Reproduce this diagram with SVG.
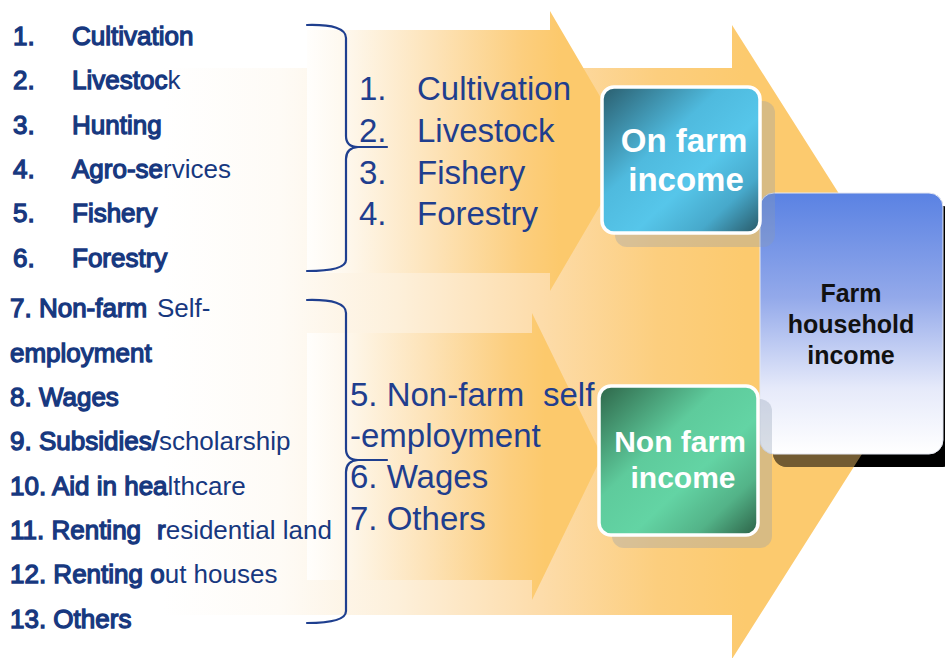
<svg xmlns="http://www.w3.org/2000/svg" width="945" height="658" viewBox="0 0 945 658">
  <style>
    .list { font-family: "Liberation Sans", Arial, sans-serif; font-size: 26px; fill: #17387f; }
    .b { stroke: #17387f; stroke-width: 1.3; }
    .mid { font-family: "Liberation Sans", Arial, sans-serif; font-size: 33px; fill: #1f3e8e; }
    .boxtxt { font-family: "Liberation Sans", Arial, sans-serif; font-weight: bold; fill: #ffffff; text-anchor: middle; }
    .hh { font-family: "Liberation Sans", Arial, sans-serif; font-weight: bold; font-size: 25px; fill: #111111; text-anchor: middle; }
    .brace { fill: none; stroke: #1f3f8f; stroke-width: 2.2; stroke-linecap: round; stroke-linejoin: round; }
    .card { stroke: #ffffff; stroke-width: 3.5; }
    .soft { fill: #8c9cb0; opacity: 0.32; }
  </style>
  <defs>
    <linearGradient id="gBig" gradientUnits="userSpaceOnUse" x1="163" y1="0" x2="745" y2="0">
      <stop offset="0" stop-color="#ffffff"/>
      <stop offset="0.2" stop-color="#fefbf6"/>
      <stop offset="0.4" stop-color="#fdf0db"/>
      <stop offset="0.65" stop-color="#fddcaa"/>
      <stop offset="0.85" stop-color="#fcce7e"/>
      <stop offset="1" stop-color="#fcca6e"/>
    </linearGradient>
    <linearGradient id="gUp" gradientUnits="userSpaceOnUse" x1="307" y1="0" x2="560" y2="0">
      <stop offset="0" stop-color="#fffefc"/>
      <stop offset="0.15" stop-color="#fef8ee"/>
      <stop offset="0.5" stop-color="#fde3b8"/>
      <stop offset="0.85" stop-color="#fcce7e"/>
      <stop offset="1" stop-color="#fcc96c"/>
    </linearGradient>
    <linearGradient id="gLow" gradientUnits="userSpaceOnUse" x1="307" y1="0" x2="545" y2="0">
      <stop offset="0" stop-color="#fffefc"/>
      <stop offset="0.15" stop-color="#fef8ee"/>
      <stop offset="0.5" stop-color="#fde3b8"/>
      <stop offset="0.85" stop-color="#fcce7e"/>
      <stop offset="1" stop-color="#fcc96c"/>
    </linearGradient>
    <linearGradient id="gOn" x1="0" y1="0" x2="1" y2="1">
      <stop offset="0" stop-color="#2a5d6d"/>
      <stop offset="0.38" stop-color="#4fbade"/>
      <stop offset="0.6" stop-color="#56c6ea"/>
      <stop offset="0.8" stop-color="#47a9cb"/>
      <stop offset="1" stop-color="#285866"/>
    </linearGradient>
    <linearGradient id="gNon" x1="0" y1="0" x2="1" y2="1">
      <stop offset="0" stop-color="#2e6649"/>
      <stop offset="0.38" stop-color="#5ecb9c"/>
      <stop offset="0.6" stop-color="#63d4a4"/>
      <stop offset="0.8" stop-color="#53b388"/>
      <stop offset="1" stop-color="#2c6146"/>
    </linearGradient>
    <linearGradient id="gHouse" x1="0" y1="0" x2="0" y2="1">
      <stop offset="0" stop-color="#5a82e3"/>
      <stop offset="0.4" stop-color="#93a9ea"/>
      <stop offset="0.75" stop-color="#e6eafa"/>
      <stop offset="1" stop-color="#ffffff"/>
    </linearGradient>
    <clipPath id="bigClip">
      <polygon points="163,68 732,68 732,25 933,342 732,659 732,615 163,615"/>
    </clipPath>
  </defs>

  <rect width="945" height="658" fill="#ffffff"/>

  <!-- flow arrows -->
  <g id="connectors">
    <polygon id="arrow-total" fill="url(#gBig)" points="163,68 732,68 732,25 933,342 732,659 732,615 163,615"/>
    <polygon id="arrow-onfarm" fill="url(#gUp)" points="307,30 550,30 550,11 632,151 550,291 550,273 307,273"/>
    <polygon id="arrow-nonfarm" fill="url(#gLow)" points="307,333 532,333 532,313 602,456 532,600 532,580 307,580"/>
  </g>

  <!-- farm household income -->
  <g id="node-household">
    <rect x="773" y="206" width="184" height="261" rx="14" fill="#000000"/>
    <rect x="773" y="206" width="184" height="261" rx="14" fill="#fcca6e" opacity="0.45" clip-path="url(#bigClip)"/>
    <rect x="760" y="193" width="183" height="261" rx="14" fill="url(#gHouse)" stroke="#e4e7f2" stroke-width="1"/>
    <text class="hh" x="851" y="302">Farm</text>
    <text class="hh" x="851" y="333">household</text>
    <text class="hh" x="851" y="364">income</text>
  </g>

  <!-- on farm income -->
  <g id="node-onfarm">
    <rect class="soft" x="615" y="101" width="160" height="146" rx="12"/>
    <rect class="card" x="602" y="87" width="158" height="146" rx="12" fill="url(#gOn)"/>
    <text class="boxtxt" x="684" y="152" font-size="33">On farm</text>
    <text class="boxtxt" x="686" y="191" font-size="33">income</text>
  </g>

  <!-- non farm income -->
  <g id="node-nonfarm">
    <rect class="soft" x="612" y="399" width="160" height="149" rx="12"/>
    <rect class="card" x="599" y="386" width="159" height="149" rx="12" fill="url(#gNon)"/>
    <text class="boxtxt" x="680" y="452" font-size="30">Non farm</text>
    <text class="boxtxt" x="683" y="488" font-size="30">income</text>
  </g>

  <!-- detailed source list -->
  <g id="node-sources-onfarm" class="list">
    <text x="13" y="44.5"><tspan class="b">1.</tspan><tspan class="b" x="72">Cultivation</tspan></text>
    <text x="13" y="88.5"><tspan class="b">2.</tspan><tspan class="b" x="72">Livestoc</tspan><tspan>k</tspan></text>
    <text x="13" y="133.5"><tspan class="b">3.</tspan><tspan class="b" x="72">Hunting</tspan></text>
    <text x="13" y="177.5"><tspan class="b">4.</tspan><tspan class="b" x="72">Agro-se</tspan><tspan>rvices</tspan></text>
    <text x="13" y="221.5"><tspan class="b">5.</tspan><tspan class="b" x="72">Fishery</tspan></text>
    <text x="13" y="266.5"><tspan class="b">6.</tspan><tspan class="b" x="72">Forestry</tspan></text>
  </g>
  <g id="node-sources-nonfarm" class="list">
    <text x="10" y="317"><tspan class="b">7. Non-farm</tspan><tspan x="157">Self-</tspan></text>
    <text x="10" y="361.5" class="b">employment</text>
    <text x="10" y="406" class="b">8. Wages</text>
    <text x="10" y="450"><tspan class="b">9. Subsidies/</tspan><tspan>scholarship</tspan></text>
    <text x="10" y="494.5"><tspan class="b">10. Aid in hea</tspan><tspan>lthcare</tspan></text>
    <text x="10" y="539"><tspan class="b">11. Renting</tspan><tspan class="b" x="157">r</tspan><tspan>esidential land</tspan></text>
    <text x="10" y="583"><tspan class="b">12. Renting o</tspan><tspan>ut houses</tspan></text>
    <text x="10" y="627.5" class="b">13. Others</text>
  </g>

  <!-- grouping braces -->
  <g id="braces">
    <path class="brace" d="M307,25 Q346,24 346,38 L346,136 Q346,147 358,147 L387,147 M358,147 Q346,148 346,159 L346,260 Q346,271 307,271"/>
    <path class="brace" d="M307,300 Q346,299 346,313 L346,449 Q346,460 358,460 L387,460 M358,460 Q346,461 346,472 L346,611 Q346,623 307,623"/>
  </g>

  <!-- grouped categories -->
  <g id="node-groups-onfarm" class="mid">
    <text x="359" y="100">1.</text><text x="417" y="100">Cultivation</text>
    <text x="359" y="142">2.</text><text x="417" y="142">Livestock</text>
    <text x="359" y="183.5">3.</text><text x="417" y="183.5">Fishery</text>
    <text x="359" y="225">4.</text><text x="417" y="225">Forestry</text>
  </g>
  <g id="node-groups-nonfarm" class="mid">
    <text x="350" y="406">5. Non-farm<tspan x="543">self</tspan></text>
    <text x="350" y="447">-employment</text>
    <text x="350" y="488">6. Wages</text>
    <text x="350" y="530">7. Others</text>
  </g>
</svg>
